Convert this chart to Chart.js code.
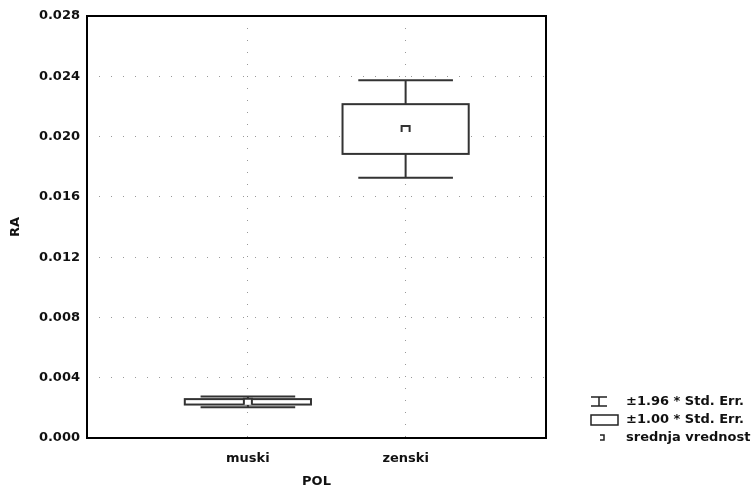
<!DOCTYPE html>
<html>
<head>
<meta charset="utf-8">
<script src="https://cdn.jsdelivr.net/npm/chart.js@4.4.1/dist/chart.umd.min.js"></script>
<style>
  body { margin: 0; background: #fff; }
</style>
</head>
<body>
<canvas id="raChart" width="755" height="493"></canvas>
<script>
// podaci
var kategorije = ['muski', 'zenski'];
var srednjaVrednost = [0.0024, 0.0205];
var stdGreska = [0.00018, 0.00165];
var yTicks = [0, 0.004, 0.008, 0.012, 0.016, 0.020, 0.024, 0.028];
var legendaTekst = ['\u00b11.96 * Std. Err.', '\u00b11.00 * Std. Err.', 'srednja vrednost'];

var font = "'DejaVu Sans', sans-serif";

// kutije i brkovi se crtaju preko skala
var kutijePlugin = {
    id: 'kutije',
    afterDatasetsDraw: function(chart) {
        var ctx = chart.ctx;
        var xs = chart.scales.x, ys = chart.scales.y;
        ctx.save();
        ctx.strokeStyle = '#333';
        ctx.lineWidth = 2;
        srednjaVrednost.forEach(function(m, i) {
            var se = stdGreska[i];
            var pos = i + 1;
            var cx = xs.getPixelForValue(pos);
            var bl = xs.getPixelForValue(pos - 0.4), br = xs.getPixelForValue(pos + 0.4);
            var wl = xs.getPixelForValue(pos - 0.3), wr = xs.getPixelForValue(pos + 0.3);
            var bTop = ys.getPixelForValue(m + se), bBot = ys.getPixelForValue(m - se);
            var wTop = ys.getPixelForValue(m + 1.96 * se), wBot = ys.getPixelForValue(m - 1.96 * se);

            ctx.beginPath();
            ctx.moveTo(cx, bTop); ctx.lineTo(cx, wTop);
            ctx.moveTo(cx, bBot); ctx.lineTo(cx, wBot);
            ctx.moveTo(wl, wTop); ctx.lineTo(wr, wTop);
            ctx.moveTo(wl, wBot); ctx.lineTo(wr, wBot);
            ctx.stroke();

            ctx.fillStyle = '#fff';
            ctx.fillRect(bl, bTop, br - bl, bBot - bTop);
            ctx.strokeRect(bl, bTop, br - bl, bBot - bTop);

            // srednja vrednost
            var my = ys.getPixelForValue(m);
            ctx.fillStyle = '#fff';
            ctx.fillRect(cx - 4, my - 3, 8, 6);
            ctx.beginPath();
            ctx.moveTo(cx - 4, my + 3);
            ctx.lineTo(cx - 4, my - 3);
            ctx.lineTo(cx + 4, my - 3);
            ctx.lineTo(cx + 4, my + 3);
            ctx.stroke();
        });
        ctx.restore();
    },
    afterDraw: function(chart) {
        var ctx = chart.ctx, a = chart.chartArea;
        ctx.save();
        ctx.strokeStyle = '#000';
        ctx.lineWidth = 2;
        ctx.strokeRect(a.left, a.top, a.right - a.left, a.bottom - a.top);

        // legenda
        var tx = 626;
        var rows = [402, 420, 438];
        ctx.strokeStyle = '#222';
        ctx.lineWidth = 1.5;
        // brk
        ctx.beginPath();
        ctx.moveTo(591, rows[0] - 5); ctx.lineTo(607, rows[0] - 5);
        ctx.moveTo(591, rows[0] + 4); ctx.lineTo(607, rows[0] + 4);
        ctx.moveTo(599, rows[0] - 5); ctx.lineTo(599, rows[0] + 4);
        ctx.stroke();
        // kutija
        ctx.strokeRect(591, rows[1] - 5, 27, 10);
        // srednja
        ctx.beginPath();
        ctx.moveTo(600, rows[2] - 3); ctx.lineTo(604, rows[2] - 3);
        ctx.lineTo(604, rows[2] + 2); ctx.lineTo(600, rows[2] + 2);
        ctx.stroke();

        ctx.fillStyle = '#111';
        ctx.font = 'bold 13px ' + font;
        ctx.textBaseline = 'middle';
        ctx.textAlign = 'left';
        legendaTekst.forEach(function(t, i) {
            ctx.fillText(t, tx, rows[i]);
        });
        ctx.restore();
    }
};

var ctx = document.getElementById('raChart').getContext('2d');
var grafik = new Chart(ctx, {
    type: 'scatter',
    data: {
        datasets: [{
            data: srednjaVrednost.map(function(v, i) { return { x: i + 1, y: v }; }),
            pointRadius: 0
        }]
    },
    options: {
        responsive: false,
        animation: false,
        layout: { padding: { top: 16, right: 209, left: 0, bottom: 0 } },
        plugins: { legend: { display: false }, tooltip: { enabled: false } },
        scales: {
            x: {
                type: 'linear',
                min: -0.02,
                max: 2.89,
                afterBuildTicks: function(scale) {
                    scale.ticks = kategorije.map(function(k, i) { return { value: i + 1 }; });
                },
                afterFit: function(scale) { scale.height = 55; },
                ticks: {
                    padding: 13,
                    color: '#111',
                    font: { family: font, size: 13, weight: 'bold' },
                    callback: function(v) { return kategorije[v - 1]; }
                },
                grid: { color: '#999', lineWidth: 1, drawTicks: false },
                border: { display: false, dash: [1, 11] },
                title: {
                    display: true,
                    text: 'POL',
                    color: '#111',
                    padding: { top: 0, bottom: 4 },
                    font: { family: font, size: 13, weight: 'bold' }
                }
            },
            y: {
                min: 0,
                max: 0.028,
                afterBuildTicks: function(scale) {
                    scale.ticks = yTicks.map(function(v) { return { value: v }; });
                },
                afterFit: function(scale) { scale.width = 87; },
                ticks: {
                    padding: 7,
                    color: '#111',
                    font: { family: font, size: 13, weight: 'bold' },
                    callback: function(v) { return v.toFixed(3); }
                },
                grid: { color: '#999', lineWidth: 1, drawTicks: false },
                border: { display: false, dash: [1, 11] },
                title: {
                    display: true,
                    text: 'RA',
                    color: '#111',
                    padding: { top: 8, bottom: 0 },
                    font: { family: font, size: 13, weight: 'bold' }
                }
            }
        }
    },
    plugins: [kutijePlugin]
});
</script>
</body>
</html>
